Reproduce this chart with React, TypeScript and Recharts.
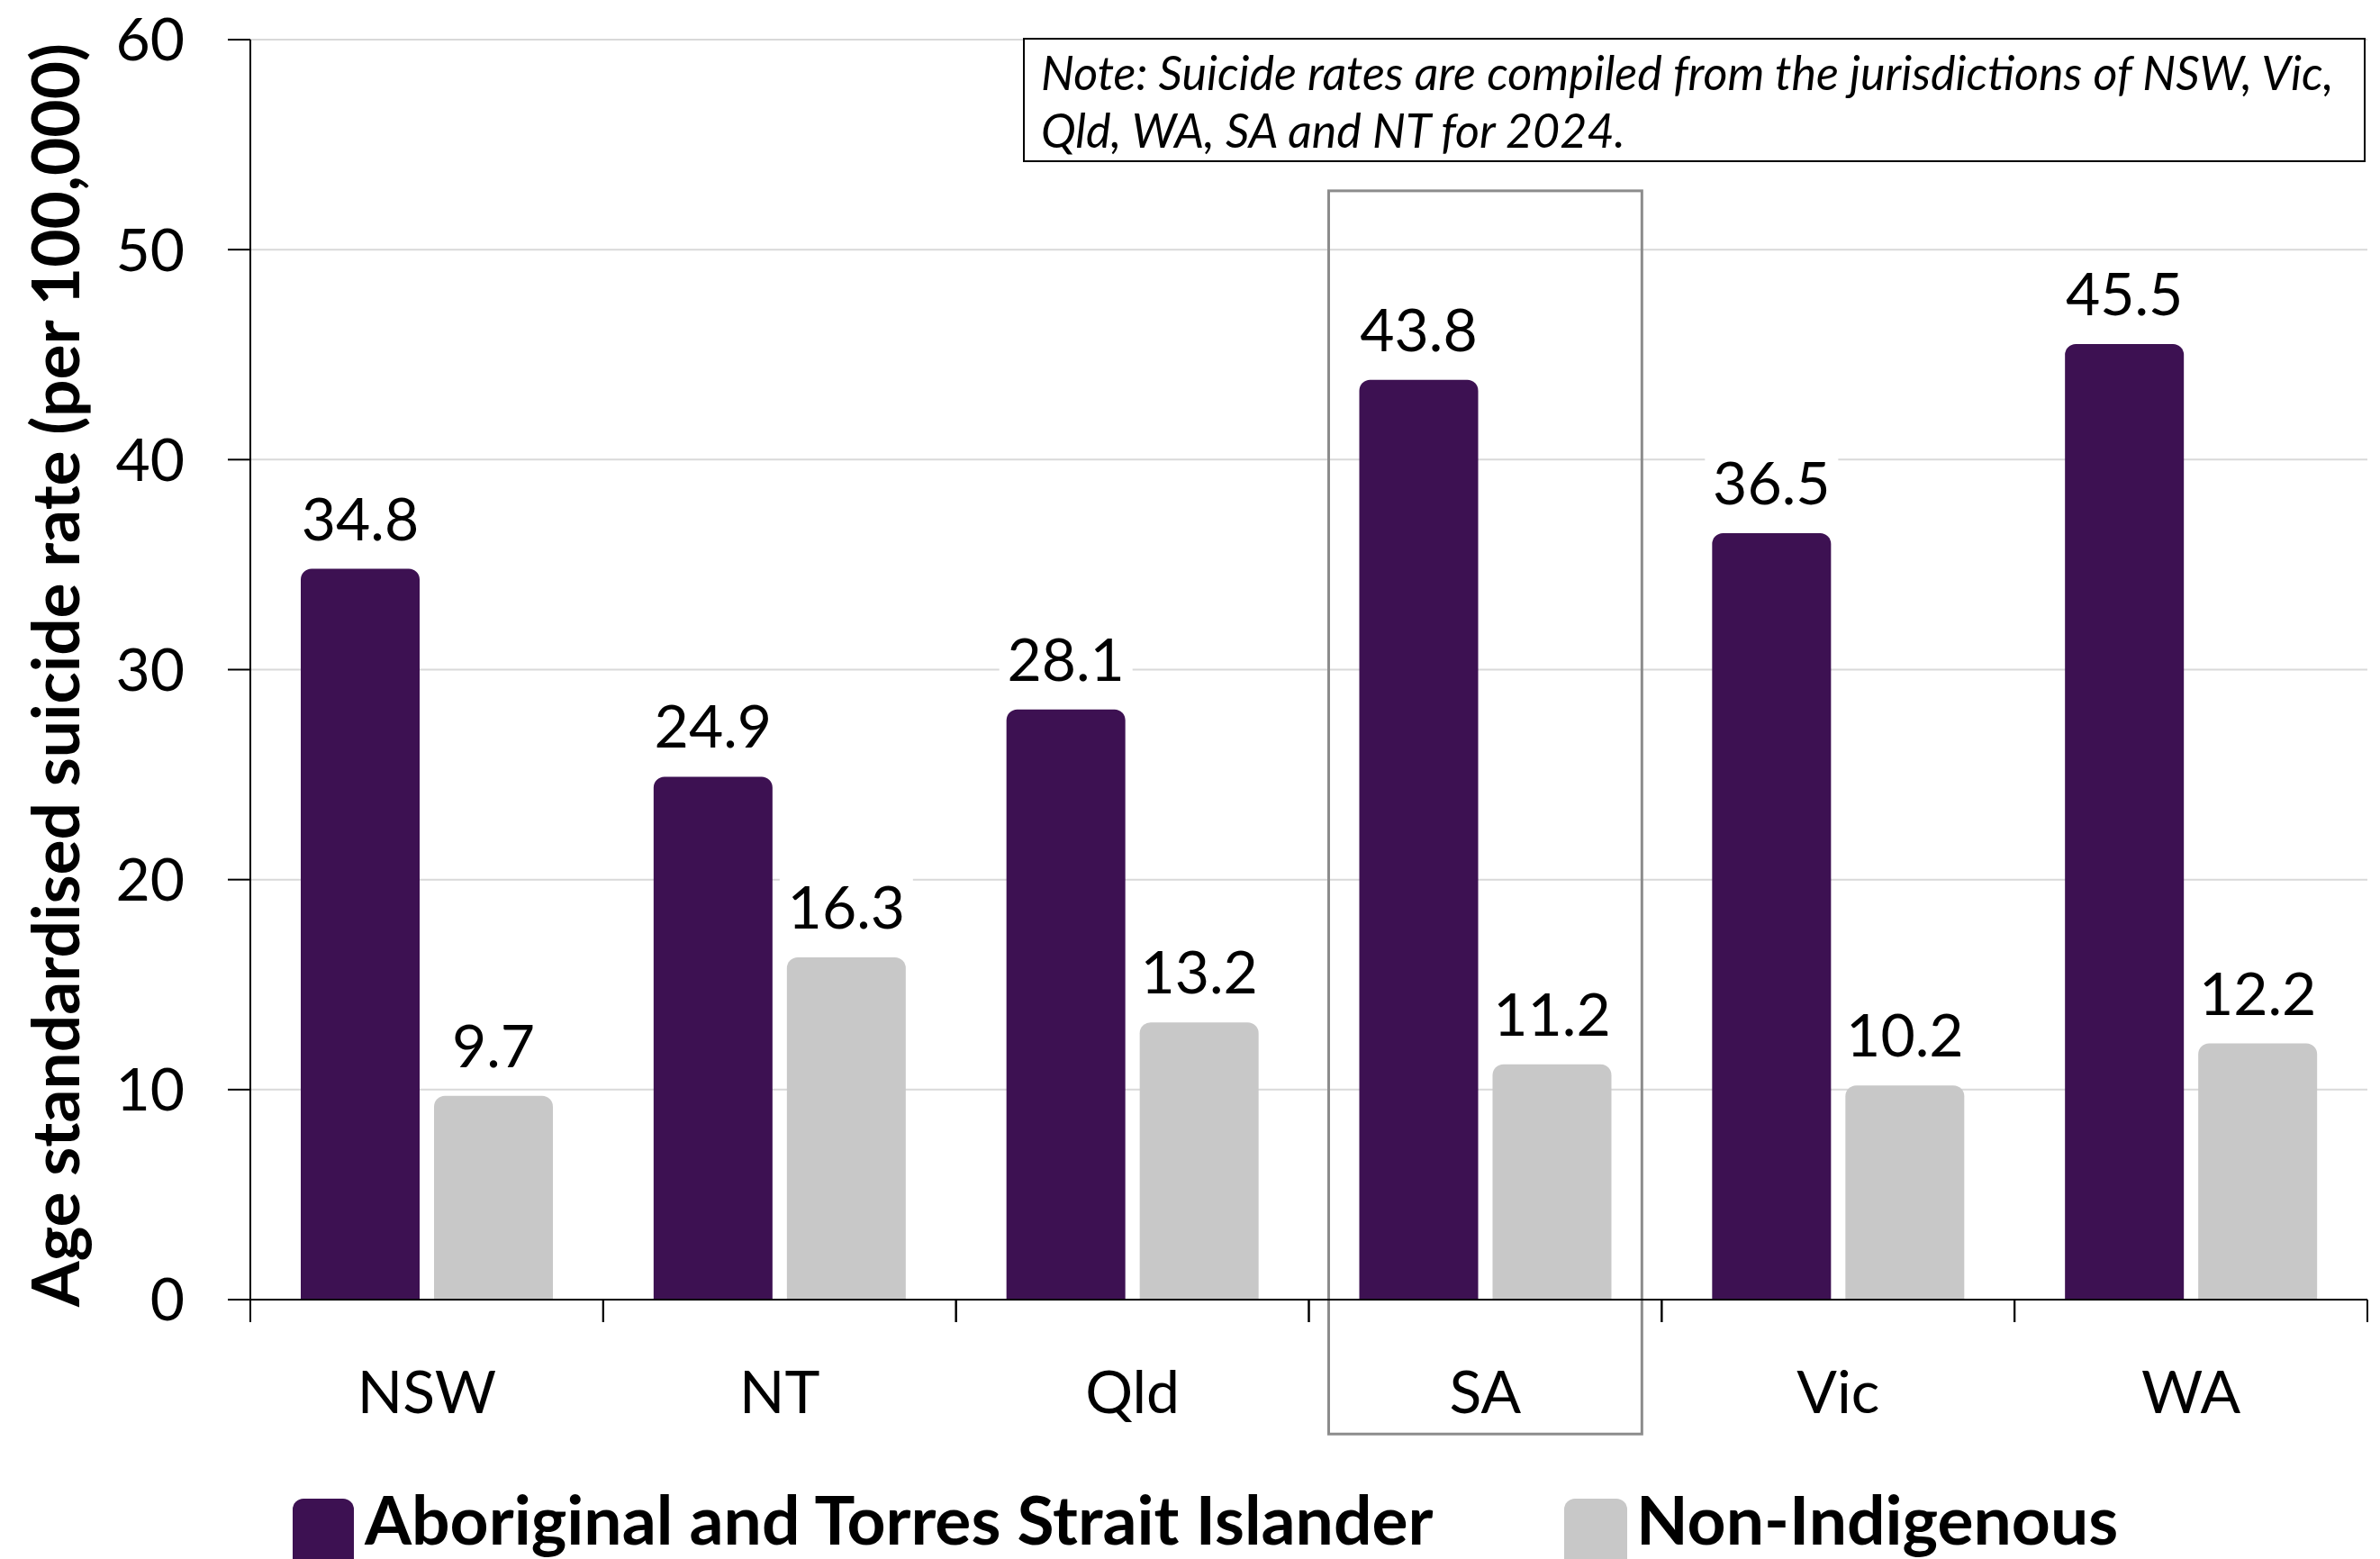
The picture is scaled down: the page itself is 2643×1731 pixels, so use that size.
import React from 'react';
import { BarChart, Bar, XAxis, YAxis, CartesianGrid, Legend, LabelList, ReferenceArea } from 'recharts';

const categories = ['NSW', 'NT', 'Qld', 'SA', 'Vic', 'WA'];
const aboriginalRates = [34.8, 24.9, 28.1, 43.8, 36.5, 45.5];
const nonIndigenousRates = [9.7, 16.3, 13.2, 11.2, 10.2, 12.2];
const yTicks = [0, 10, 20, 30, 40, 50, 60];

const seriesNames = ['Aboriginal and Torres Strait Islander', 'Non-Indigenous'];
const yAxisTitle = 'Age standardised suicide rate (per 100,000)';
const noteLines = [
    'Note: Suicide rates are compiled from the jurisdictions of NSW, Vic,',
    'Qld, WA, SA and NT for 2024.',
];
const highlighted = 'SA';

const PURPLE = '#3D1152';
const GREY = '#C8C8C8';
const FONT = 'Lato, "Open Sans", sans-serif';

const TICK_SIZE = 25;
const TICK_MARGIN = 54;

const data = categories.map((name, i) => ({
    name,
    aboriginal: aboriginalRates[i],
    nonIndigenous: nonIndigenousRates[i],
}));

// value label with a white backing box (covers gridlines like the original)
const ValueLabel = (props: any) => {
    const { x, y, width, value } = props;
    const cx = x + width / 2;
    const baseline = y - 32;
    return (
        <g>
            <rect x={cx - 74} y={baseline - 66} width={148} height={86} fill="#fff" />
            <text x={cx} y={baseline} textAnchor="middle" fontSize={66} fontFamily={FONT} fill="#000">
                {Number(value).toFixed(1)}
            </text>
        </g>
    );
};

// category label + tick marks on the category boundaries (Excel style)
const CategoryTick = (props: any) => {
    const { x, y, payload } = props;
    const half = payload && payload.offset ? payload.offset : 0;
    const axisY = y - TICK_SIZE - TICK_MARGIN;
    return (
        <g>
            <line x1={x - half} x2={x - half} y1={axisY} y2={axisY + TICK_SIZE} stroke="#000" strokeWidth={2} />
            <line x1={x + half} x2={x + half} y1={axisY} y2={axisY + TICK_SIZE} stroke="#000" strokeWidth={2} />
            <text x={x} y={y} dy="0.71em" textAnchor="middle" fontSize={66} fontFamily={FONT} fill="#000">
                {payload.value}
            </text>
        </g>
    );
};

const YTitle = (props: any) => {
    const vb = props.viewBox || { y: 44, height: 1399 };
    const cy = vb.y + vb.height / 2 + 6;
    return (
        <text
            transform={`translate(88, ${cy}) rotate(-90)`}
            textAnchor="middle"
            fontSize={73}
            fontWeight={700}
            fontFamily={FONT}
            fill="#000"
        >
            {yAxisTitle}
        </text>
    );
};

const HighlightBox = (props: any) => {
    const { x, y, width, height } = props;
    return (
        <rect x={x + 22} y={y} width={width - 44} height={height} fill="none" stroke="#8C8C8C" strokeWidth={3} />
    );
};

const LegendContent = () => (
    <div style={{ position: 'relative', height: 88, width: 2643, fontFamily: FONT }}>
        <div style={{ position: 'absolute', left: 325, top: 21, width: 68, height: 80, background: PURPLE, borderRadius: 12 }} />
        <div style={{ position: 'absolute', left: 405, top: -2, fontSize: 75, fontWeight: 700, lineHeight: '90px', whiteSpace: 'nowrap' }}>
            {seriesNames[0]}
        </div>
        <div style={{ position: 'absolute', left: 1737, top: 21, width: 70, height: 80, background: GREY, borderRadius: 12 }} />
        <div style={{ position: 'absolute', left: 1817, top: -2, fontSize: 75, fontWeight: 700, lineHeight: '90px', whiteSpace: 'nowrap' }}>
            {seriesNames[1]}
        </div>
    </div>
);

export default function App() {
    return (
        <div style={{ position: 'absolute', left: 0, top: 0, width: 2643, height: 1731, background: '#fff', fontFamily: FONT, overflow: 'hidden' }}>
            <BarChart
                width={2643}
                height={1731}
                data={data}
                margin={{ top: 44, right: 14, bottom: 0, left: 0 }}
                barGap={16}
                barSize={132}
            >
                <CartesianGrid vertical={false} stroke="#D9D9D9" strokeWidth={2} />
                <XAxis
                    dataKey="name"
                    height={200}
                    tickLine={false}
                    axisLine={{ stroke: '#000', strokeWidth: 2 }}
                    tickSize={TICK_SIZE}
                    tickMargin={TICK_MARGIN}
                    interval={0}
                    tick={<CategoryTick />}
                />
                <YAxis
                    width={278}
                    domain={[0, 60]}
                    ticks={yTicks}
                    tickSize={25}
                    tickMargin={48}
                    axisLine={{ stroke: '#000', strokeWidth: 2 }}
                    tickLine={{ stroke: '#000', strokeWidth: 2 }}
                    tick={{ fontSize: 66, fill: '#000', fontFamily: FONT }}
                    label={<YTitle />}
                />
                <ReferenceArea
                    x1={highlighted}
                    x2={highlighted}
                    y1={-6.4}
                    y2={52.8}
                    ifOverflow="visible"
                    shape={<HighlightBox />}
                />
                <Bar dataKey="aboriginal" name={seriesNames[0]} fill={PURPLE} radius={[12, 12, 0, 0]} isAnimationActive={false}>
                    <LabelList dataKey="aboriginal" content={<ValueLabel />} />
                </Bar>
                <Bar dataKey="nonIndigenous" name={seriesNames[1]} fill={GREY} radius={[12, 12, 0, 0]} isAnimationActive={false}>
                    <LabelList dataKey="nonIndigenous" content={<ValueLabel />} />
                </Bar>
                <Legend verticalAlign="bottom" height={88} wrapperStyle={{ left: 0, width: 2643 }} content={<LegendContent />} />
            </BarChart>
            <div
                style={{
                    position: 'absolute',
                    left: 1136,
                    top: 42,
                    width: 1491,
                    height: 138,
                    boxSizing: 'border-box',
                    border: '2px solid #000',
                    background: '#fff',
                    fontStyle: 'italic',
                    fontSize: 52,
                    lineHeight: '64px',
                    padding: '4px 0 0 18px',
                    whiteSpace: 'nowrap',
                }}
            >
                {noteLines.map((l) => (
                    <div key={l}>{l}</div>
                ))}
            </div>
        </div>
    );
}
